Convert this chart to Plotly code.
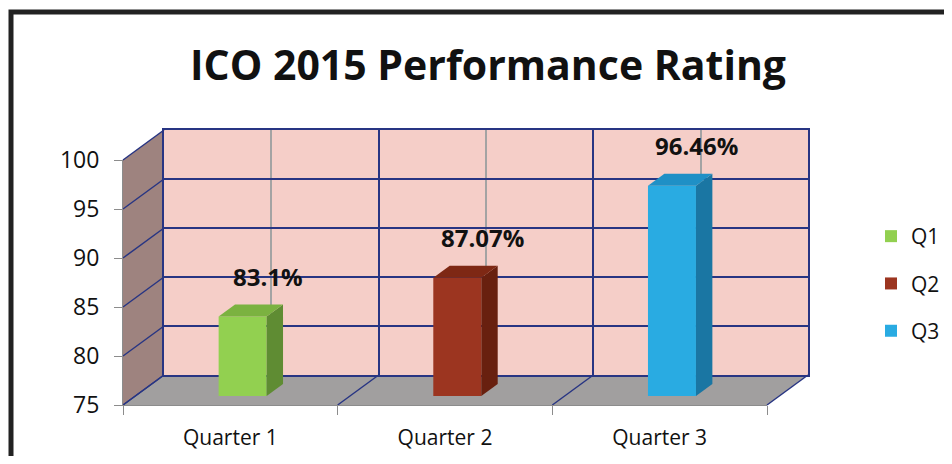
import plotly.graph_objects as go

# ---- data ----
categories = ["Quarter 1", "Quarter 2", "Quarter 3"]
series_names = ["Q1", "Q2", "Q3"]
values = [83.1, 87.07, 96.46]
y_ticks = [75, 80, 85, 90, 95, 100]
title_text = "ICO 2015 Performance Rating"

front_colors = ["#92d050", "#9c3520", "#29abe2"]
side_colors = ["#5f8c33", "#68200f", "#1a76a3"]
top_colors = ["#7bb240", "#7e2814", "#1f90c6"]

# ---- geometry (pixels in the 952x464 window) ----
BODY = 8                     # default page body margin
W, H = 952 - 2 * BODY, 464 - 2 * BODY
FX0, FX1 = 123, 767          # front plane x extent
FY_LO, FY_HI = 405, 160      # front plane y for 75 and 100
DX, DY = 41, 30              # depth offset of back wall
BF = 0.3                     # bar front at 30% depth
BD = 0.4                     # bar depth = 40% of wall depth
YMIN, YMAX = 75, 100
NCAT = len(categories)

def px(x):
    return (x - BODY) / W

def py(y):
    return 1 - (y - BODY) / H

def dom_x(off):
    return [px(FX0 + off), px(FX1 + off)]

def dom_y(off):
    return [py(FY_LO - off), py(FY_HI - off)]

fig = go.Figure()

bar_w = 48 / (FX1 - FX0) * NCAT
ddx = BD * DX / (FX1 - FX0) * NCAT
ddy = BD * DY / (FY_LO - FY_HI) * (YMAX - YMIN)

for i, (name, v) in enumerate(zip(series_names, values)):
    xl, xr = i - bar_w / 2, i + bar_w / 2
    fig.add_trace(go.Scatter(
        x=[xr, xr + ddx, xr + ddx, xr, xr], y=[YMIN, YMIN + ddy, v + ddy, v, YMIN],
        fill="toself", fillcolor=side_colors[i], mode="lines", line=dict(width=0),
        xaxis="x3", yaxis="y3", showlegend=False, hoverinfo="skip"))
    fig.add_trace(go.Scatter(
        x=[xl, xr, xr + ddx, xl + ddx, xl], y=[v, v, v + ddy, v + ddy, v],
        fill="toself", fillcolor=top_colors[i], mode="lines", line=dict(width=0),
        xaxis="x3", yaxis="y3", showlegend=False, hoverinfo="skip"))
    fig.add_trace(go.Bar(
        x=[i], y=[v - YMIN], base=[YMIN], width=bar_w, name=name,
        marker=dict(color=front_colors[i], line=dict(width=0)),
        xaxis="x3", yaxis="y3", legendgroup=name))
    fig.add_annotation(
        x=i, y=v, xref="x3", yref="y3", text=f"<b>{v:g}%</b>", showarrow=False,
        xshift=25, yshift=40, font=dict(family="Open Sans", size=24, color="#111"))

fig.add_trace(go.Scatter(x=[0], y=[YMIN], mode="markers", marker=dict(opacity=0),
                         xaxis="x", yaxis="y", showlegend=False, hoverinfo="skip"))
fig.add_trace(go.Scatter(x=[0], y=[YMIN], mode="markers", marker=dict(opacity=0),
                         xaxis="x2", yaxis="y2", showlegend=False, hoverinfo="skip"))

NAVY = "#283583"
GRAYL = "#8c8c8c"

shapes = []
shapes.append(dict(type="rect", xref="x2 domain", yref="y2 domain", x0=0, x1=1, y0=0, y1=1,
                   fillcolor="#f5cec8", line=dict(width=0), layer="below"))
shapes.append(dict(type="path", xref="paper", yref="paper", layer="below",
                   path=f"M{px(FX0)},{py(FY_HI)} L{px(FX0+DX)},{py(FY_HI-DY)} L{px(FX0+DX)},{py(FY_LO-DY)} L{px(FX0)},{py(FY_LO)} Z",
                   fillcolor="#9e837f", line=dict(width=0)))
shapes.append(dict(type="path", xref="paper", yref="paper", layer="below",
                   path=f"M{px(FX0)},{py(FY_LO)} L{px(FX0+DX)},{py(FY_LO-DY)} L{px(FX1+DX)},{py(FY_LO-DY)} L{px(FX1)},{py(FY_LO)} Z",
                   fillcolor="#a19f9f", line=dict(width=0)))
for t in y_ticks:
    yy = FY_LO - (t - YMIN) / (YMAX - YMIN) * (FY_LO - FY_HI)
    shapes.append(dict(type="line", xref="paper", yref="paper", layer="below",
                       x0=px(FX0), y0=py(yy), x1=px(FX0 + DX), y1=py(yy - DY),
                       line=dict(color=NAVY, width=1.5)))
for k in range(NCAT + 1):
    xx = FX0 + k * (FX1 - FX0) / NCAT
    shapes.append(dict(type="line", xref="paper", yref="paper", layer="below",
                       x0=px(xx), y0=py(FY_LO), x1=px(xx + DX), y1=py(FY_LO - DY),
                       line=dict(color=NAVY, width=1.5)))
shapes.append(dict(type="rect", xref="paper", yref="paper", x0=px(11), y0=py(12), x1=px(990), y1=py(500),
                   line=dict(color="#222222", width=5), fillcolor="rgba(0,0,0,0)"))

TICKFONT = dict(family="Open Sans", size=23, color="#111")

fig.update_layout(
    width=W, height=H,
    margin=dict(l=0, r=0, t=0, b=0, autoexpand=False),
    paper_bgcolor="white", plot_bgcolor="rgba(0,0,0,0)",
    barmode="overlay",
    title=dict(text=f"<b>{title_text}</b>", x=px(488), y=py(66), xanchor="center", yanchor="middle",
               font=dict(family="Open Sans", size=41, color="#111")),
    xaxis=dict(domain=dom_x(0), range=[-0.5, NCAT - 0.5], tickvals=list(range(NCAT)), ticktext=categories,
               ticks="", showgrid=False, zeroline=False, showline=True, linecolor=GRAYL, linewidth=1,
               minor=dict(tickvals=[k - 0.5 for k in range(NCAT + 1)], ticks="outside", ticklen=9,
                          tickcolor=GRAYL, tickwidth=1),
               tickfont=dict(family="Open Sans", size=21, color="#111"), anchor="y",
               ticklabelstandoff=14, automargin=False),
    yaxis=dict(domain=dom_y(0), range=[YMIN, YMAX], tickvals=y_ticks, ticks="outside", ticklen=8,
               tickcolor=GRAYL, showgrid=False, zeroline=False, showline=True, linecolor=GRAYL,
               linewidth=1, tickfont=TICKFONT, anchor="x", ticklabelstandoff=10, automargin=False),
    xaxis2=dict(domain=dom_x(DX), range=[0, NCAT], dtick=1, tick0=0, showgrid=True, gridcolor=NAVY,
                gridwidth=1.5, showticklabels=False, ticks="", zeroline=False, showline=True,
                mirror=True, linecolor=NAVY, linewidth=1.5, anchor="y2",
                minor=dict(dtick=1, tick0=0.5, showgrid=True, gridcolor="#a3a3a3", gridwidth=1.5)),
    yaxis2=dict(domain=dom_y(DY), range=[YMIN, YMAX], dtick=5, showgrid=True, gridcolor=NAVY,
                gridwidth=1.5, showticklabels=False, ticks="", zeroline=False, showline=True,
                mirror=True, linecolor=NAVY, linewidth=1.5, anchor="x2"),
    xaxis3=dict(domain=dom_x(BF * DX), range=[-0.5, NCAT - 0.5], visible=False, anchor="y3"),
    yaxis3=dict(domain=dom_y(BF * DY), range=[YMIN, YMAX], visible=False, anchor="x3"),
    legend=dict(x=px(871), y=py(216), xanchor="left", yanchor="top", tracegroupgap=17,
                font=dict(family="Open Sans", size=21, color="#111"), bgcolor="rgba(0,0,0,0)",
                itemwidth=30),
    shapes=shapes,
    showlegend=True,
)

fig.write_html("out.html")
